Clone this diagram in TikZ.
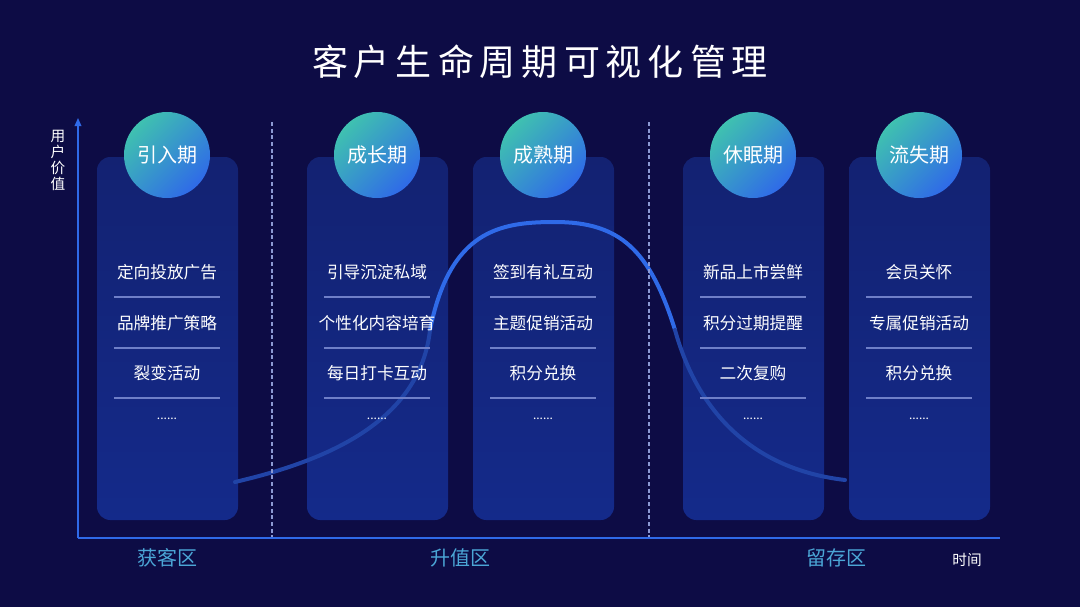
\documentclass[tikz,border=0pt]{standalone}
\usepackage{fontspec}
\setmainfont{Noto Sans CJK SC}
\usetikzlibrary{arrows.meta}
\definecolor{bg}{HTML}{0D0C45}
\definecolor{cardtop}{HTML}{132272}
\definecolor{cardbot}{HTML}{142A8A}
\definecolor{teal}{HTML}{3FC1B0}
\definecolor{cblue}{HTML}{2F6AE8}
\definecolor{zone}{HTML}{4BA6D6}
\definecolor{sep}{HTML}{6F7FC8}
\tikzset{
 card/.style={rounded corners=10pt, top color=cardtop, bottom color=cardbot, draw=none},
 phase/.style={circle, minimum size=64.5pt, inner sep=0pt, top color=teal, bottom color=cblue, shading angle=45, text=white, font=\fontsize{15}{15}\selectfont},
 item/.style={text=white, font=\fontsize{12.5}{12.5}\selectfont},
 sepl/.style={draw=sep, line width=0.8pt},
 zonel/.style={text=zone, font=\fontsize{15}{15}\selectfont},
 divl/.style={draw=sep!80!white, dashed, dash pattern=on 3pt off 2pt, line width=1pt},
}
\begin{document}
\begin{tikzpicture}[x=0.75pt,y=-0.75pt]
\fill[bg] (0,0) rectangle (1080,607);
\useasboundingbox (0,0) rectangle (1080,607);
\node[text=white, font=\fontsize{27}{27}\selectfont] (title) at (540,62) {客\,户\,生\,命\,周\,期\,可\,视\,化\,管\,理};
% cards
\foreach \cx/\n in {167/a,377/b,543/c,753/d,919/e}{
  \path[card] (\cx-70,157) rectangle (\cx+71,520);
}
% curve
\coordinate (c0) at (235,482);
\coordinate (cp) at (555,222);
\coordinate (c1) at (845,480);
\draw[cblue!60!bg, line width=3pt, line cap=round] (c0) .. controls (330,460) and (420,420) .. (430,330);
\draw[cblue, line width=3pt] (430,330) .. controls (450,230) and (500,222) .. (cp);
\draw[cblue, line width=3pt] (cp) .. controls (620,222) and (650,250) .. (675,330);
\draw[cblue!60!bg, line width=3pt, line cap=round] (675,330) .. controls (700,420) and (760,470) .. (c1);
% circles and items
\foreach \cx/\n/\p/\i/\j/\k in {
 167/a/引入期/定向投放广告/品牌推广策略/裂变活动,
 377/b/成长期/引导沉淀私域/个性化内容培育/每日打卡互动,
 543/c/成熟期/签到有礼互动/主题促销活动/积分兑换,
 753/d/休眠期/新品上市尝鲜/积分过期提醒/二次复购,
 919/e/流失期/会员关怀/专属促销活动/积分兑换}{
  \node[phase] (p\n) at (\cx,155) {\p};
  \node[item] (i1\n) at (\cx,272) {\i};
  \node[item] (i2\n) at (\cx,323) {\j};
  \node[item] (i3\n) at (\cx,373) {\k};
  \node[item, font=\fontsize{9}{9}\selectfont] (i4\n) at (\cx,419) {......};
  \draw[sepl] (\cx-53,297) -- (\cx+53,297);
  \draw[sepl] (\cx-53,348) -- (\cx+53,348);
  \draw[sepl] (\cx-53,398) -- (\cx+53,398);
}
% dividers
\coordinate (d1t) at (272,122); \coordinate (d1b) at (272,540);
\coordinate (d2t) at (649,122); \coordinate (d2b) at (649,540);
\draw[divl] (d1t) -- (d1b);
\draw[divl] (d2t) -- (d2b);
% axes
\coordinate (o) at (78,538);
\coordinate (yt) at (78,118);
\coordinate (xr) at (1000,538);
\draw[cblue, line width=1pt, -{Triangle[length=6pt,width=5pt]}] (o) -- (yt);
\draw[cblue, line width=1pt] (o) -- (xr);
\node[text=white, font=\fontsize{11}{12}\selectfont, align=center, inner sep=0pt] (yl) at (58,160) {用\\户\\价\\值};
\node[text=white, font=\fontsize{11}{11}\selectfont] (xl) at (967,560) {时间};
\node[zonel] (z1) at (167,558) {获客区};
\node[zonel] (z2) at (460,558) {升值区};
\node[zonel] (z3) at (836,558) {留存区};
\end{tikzpicture}
\end{document}
